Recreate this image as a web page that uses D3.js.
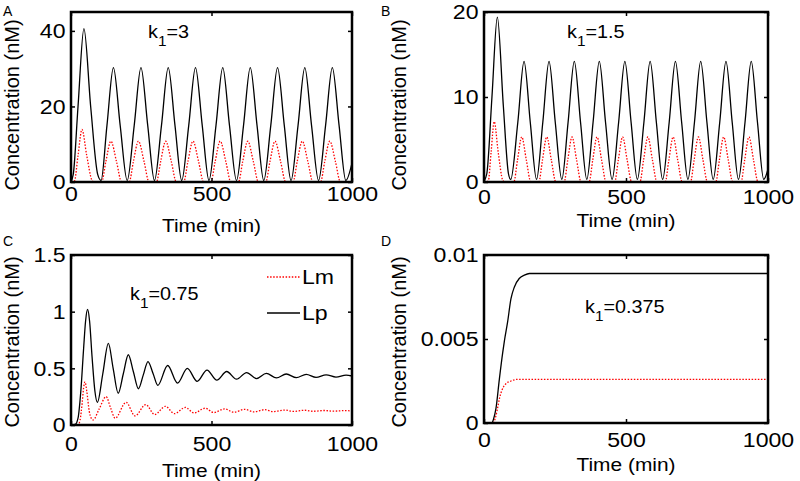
<!DOCTYPE html>
<html>
<head>
<meta charset="utf-8">
<script src="https://cdn.jsdelivr.net/npm/d3@7"></script>
<style>
  html, body { margin: 0; padding: 0; background: #fff; }
  svg { display: block; font-family: "Liberation Sans", Arial, sans-serif; }
</style>
</head>
<body>
<div id="chart"></div>
<script>
// Lp / Lm time courses for four k1 values: [time (min), concentration (nM)]
const timeTicks = [0, 500, 1000];
const panelLetters = ["A", "B", "C", "D"];
const k1Values = ["3", "1.5", "0.75", "0.375"];
const legendLabels = ["Lm", "Lp"];

const yTicksA = [0, 20, 40];
const yTicksB = [0, 10, 20];
const yTicksC = [0, 0.5, 1, 1.5];
const yTicksD = [0, 0.005, 0.01];

const aLp = [[0,0.2],[8,2],[25,20],[46,40.6],[70,20],[95,2],[107,0.4],
  [128,15],[151,30.3],[175,15],[200,0.4],
  [225,15],[249,30.3],[273,15],[297,0.4],
  [322,15],[346,30.3],[370,15],[394,0.4],
  [419,15],[443,30.3],[467,15],[491,0.4],
  [516,15],[540,30.3],[564,15],[589,0.4],
  [614,15],[638,30.3],[662,15],[686,0.4],
  [711,15],[735,30.3],[759,15],[783,0.4],
  [808,15],[832,30.3],[856,15],[881,0.4],
  [906,15],[930,30.3],[954,15],[978,0.4],[1000,5]];
const aLm = [[0,0],[12,0.2],[25,7],[39,13.9],[56,7],[75,0.4],[82,0],
  [109,0],[124,5.4],[142,10.8],[162,5.4],[180,0],
  [207,0],[222,5.4],[240,10.8],[260,5.4],[278,0],
  [304,0],[319,5.4],[337,10.8],[357,5.4],[375,0],
  [401,0],[416,5.4],[434,10.8],[454,5.4],[472,0],
  [498,0],[513,5.4],[531,10.8],[551,5.4],[569,0],
  [596,0],[611,5.4],[629,10.8],[649,5.4],[667,0],
  [693,0],[708,5.4],[726,10.8],[746,5.4],[764,0],
  [790,0],[805,5.4],[823,10.8],[843,5.4],[861,0],
  [888,0],[903,5.4],[921,10.8],[941,5.4],[959,0],[1000,0]];

const bLp = [[0,0.1],[10,1],[28,10],[47,19.4],[68,9],[86,1],[94,0.3],
  [119,7],[141,14.2],[163,7],[185,0.3],
  [207,7],[229,14.2],[251,7],[274,0.3],
  [296,7],[318,14.2],[340,7],[362,0.3],
  [384,7],[406,14.2],[428,7],[451,0.3],
  [474,7],[496,14.2],[518,7],[540,0.3],
  [563,7],[585,14.2],[607,7],[629,0.3],
  [652,7],[674,14.2],[696,7],[718,0.3],
  [741,7],[763,14.2],[785,7],[807,0.3],
  [830,7],[852,14.2],[874,7],[896,0.3],
  [919,7],[941,14.2],[963,7],[985,0.3],[1000,1.5]];
const bLm = [[0,0],[15,0.1],[25,3.5],[36,7.1],[50,3.5],[66,0.2],[72,0],
  [105,0],[118,2.6],[133,5.3],[149,2.6],[165,0],
  [193,0],[206,2.6],[221,5.3],[237,2.6],[253,0],
  [282,0],[295,2.6],[310,5.3],[326,2.6],[342,0],
  [370,0],[383,2.6],[398,5.3],[414,2.6],[430,0],
  [460,0],[473,2.6],[488,5.3],[504,2.6],[520,0],
  [549,0],[562,2.6],[577,5.3],[593,2.6],[609,0],
  [638,0],[651,2.6],[666,5.3],[682,2.6],[698,0],
  [727,0],[740,2.6],[755,5.3],[771,2.6],[787,0],
  [816,0],[829,2.6],[844,5.3],[860,2.6],[876,0],
  [905,0],[918,2.6],[933,5.3],[949,2.6],[965,0],[1000,0]];

const cLp = [[0,0],[15,0.005],[25,0.06],[35,0.3],[45,0.68],[52,0.92],[59,1.02],[66,0.92],[75,0.6],[85,0.3],[94,0.2],
  [113,0.45],[133,0.72],[150,0.5],[168,0.28],
  [186,0.45],[204,0.62],[222,0.47],[240,0.32],
  [257,0.44],[274,0.56],[292,0.455],[309,0.35],
  [344,0.525],[379,0.37],[414,0.5],[449,0.385],[484,0.485],[519,0.396],[554,0.472],[589,0.404],
  [625,0.463],[660,0.41],[695,0.456],[731,0.415],[766,0.45],[802,0.418],[837,0.447],[872,0.421],
  [908,0.443],[943,0.423],[979,0.44],[1000,0.432]];
const cLm = [[0,0],[25,0],[32,0.04],[40,0.2],[45,0.33],[50,0.38],[56,0.3],[65,0.12],[72,0.06],[79,0.045],
  [100,0.14],[125,0.25],[141,0.15],[157,0.06],
  [196,0.2],[228,0.08],[266,0.18],[298,0.092],[336,0.165],[368,0.1],[407,0.155],[438,0.106],
  [477,0.148],[508,0.11],[547,0.142],[579,0.113],[618,0.138],[650,0.116],[689,0.135],[720,0.118],
  [760,0.132],[791,0.12],[831,0.13],[862,0.121],[902,0.128],[933,0.122],[973,0.127],[1000,0.124]];

const dLp = [[0,0],[28,0],[33,0.0002],[42,0.00085],[54,0.0026],[66,0.0042],[72,0.0049],[83,0.006],
  [95,0.0074],[107,0.0081],[124,0.0086],[142,0.0088],[160,0.0089],[1000,0.0089]];
const dLm = [[0,0],[32,0],[40,0.0003],[48,0.0009],[55,0.0015],[62,0.0019],[75,0.0023],[95,0.0025],
  [120,0.0026],[1000,0.0026]];

// panel geometry (pixels) — the source figure is a little uneven, so each panel gets its own
const panels = [
  { lp: aLp, lm: aLm, yTicks: yTicksA, yMax: 45,   x0: 71,  x1: 352, y0: 12,  y1: 182, xPad: 4,  xLab: 232, yLabX: 19,  yLabY: 105, letter: [3, 16],    k: [148, 38] },
  { lp: bLp, lm: bLm, yTicks: yTicksB, yMax: 20,   x0: 484, x1: 768, y0: 12,  y1: 182, xPad: 7,  xLab: 227, yLabX: 406, yLabY: 105, letter: [381, 16],  k: [567, 38] },
  { lp: cLp, lm: cLm, yTicks: yTicksC, yMax: 1.5,  x0: 71,  x1: 352, y0: 255, y1: 425, xPad: 11, xLab: 477, yLabX: 19,  yLabY: 342, letter: [3, 246],   k: [130, 300] },
  { lp: dLp, lm: dLm, yTicks: yTicksD, yMax: 0.01, x0: 484, x1: 768, y0: 255, y1: 423, xPad: 9,  xLab: 471, yLabX: 406, yLabY: 342, letter: [381, 246], k: [585, 313] }
];

const W = 800, H = 481, STRETCH = 1.1;
const svg = d3.select("#chart").append("svg").attr("width", W).attr("height", H);
svg.append("rect").attr("width", W).attr("height", H).attr("fill", "#fff");

function styleAxis(g) {
  g.attr("font-size", 21).attr("font-family", "'Liberation Sans', Arial, sans-serif");
  g.select(".domain").remove();
  g.selectAll(".tick line").attr("stroke", "#000").attr("stroke-width", 1.5);
  g.selectAll(".tick text").attr("fill", "#000");
}

panels.forEach((p, i) => {
  const x = d3.scaleLinear().domain([0, 1000]).range([p.x0, p.x1]);
  const y = d3.scaleLinear().domain([0, p.yMax]).range([p.y1, p.y0]);
  const g = svg.append("g");

  const clipId = "clip" + i;
  svg.append("clipPath").attr("id", clipId).append("rect")
    .attr("x", p.x0).attr("y", p.y0 - 1).attr("width", p.x1 - p.x0).attr("height", p.y1 - p.y0 + 1);

  const line = d3.line().x(d => x(d[0])).y(d => y(d[1])).curve(d3.curveMonotoneX);
  const plot = g.append("g").attr("clip-path", `url(#${clipId})`);
  plot.append("path").datum(p.lp).attr("d", line)
    .attr("fill", "none").attr("stroke", "#000").attr("stroke-width", 1.3);
  plot.append("path").datum(p.lm).attr("d", line)
    .attr("fill", "none").attr("stroke", "#f00").attr("stroke-width", 1.3).attr("stroke-dasharray", "1.5 1.6");

  // axes, ticks pointing inward on all four sides
  const fmt = d => String(d);
  g.append("g").attr("transform", `translate(0,${p.y1})`)
    .call(d3.axisBottom(x).tickValues(timeTicks).tickFormat(fmt).tickSize(-4).tickPadding(p.xPad))
    .call(styleAxis)
    .selectAll(".tick text").attr("transform", `scale(${STRETCH},1)`);
  g.append("g").attr("transform", `translate(0,${p.y0})`)
    .call(d3.axisTop(x).tickValues(timeTicks).tickFormat("").tickSize(-4)).call(styleAxis);
  g.append("g").attr("transform", `translate(${p.x0},0)`)
    .call(d3.axisLeft(y).tickValues(p.yTicks).tickFormat(fmt).tickSize(-4).tickPadding(5))
    .call(styleAxis)
    .selectAll(".tick text").attr("transform", `scale(${STRETCH},1)`);
  g.append("g").attr("transform", `translate(${p.x1},0)`)
    .call(d3.axisRight(y).tickValues(p.yTicks).tickFormat("").tickSize(-4)).call(styleAxis);

  g.append("rect").attr("x", p.x0).attr("y", p.y0)
    .attr("width", p.x1 - p.x0).attr("height", p.y1 - p.y0)
    .attr("fill", "none").attr("stroke", "#000").attr("stroke-width", 2.5);

  // labels
  g.append("text").attr("transform", `translate(${(p.x0 + p.x1) / 2},${p.xLab}) scale(${STRETCH},1)`)
    .attr("text-anchor", "middle").attr("font-size", 19).text("Time (min)");
  g.append("text").attr("transform", `translate(${p.yLabX},${p.yLabY}) rotate(-90)`)
    .attr("text-anchor", "middle").attr("font-size", 20).text("Concentration (nM)");
  g.append("text").attr("x", p.letter[0]).attr("y", p.letter[1])
    .attr("font-size", 14).text(panelLetters[i]);

  const kt = g.append("text").attr("transform", `translate(${p.k[0]},${p.k[1]}) scale(${STRETCH},1)`)
    .attr("font-size", 18);
  kt.append("tspan").text("k");
  kt.append("tspan").attr("dy", 8).attr("font-size", 14).text("1");
  kt.append("tspan").attr("dy", -8).text("=" + k1Values[i]);
});

// legend in panel C
const leg = svg.append("g");
const legStyles = [
  { stroke: "#f00", dash: "1.5 1.6", y: 277, ty: 284 },
  { stroke: "#000", dash: null, y: 313, ty: 320 }
];
legendLabels.forEach((lab, j) => {
  const s = legStyles[j];
  leg.append("line").attr("x1", 267).attr("x2", 300).attr("y1", s.y).attr("y2", s.y)
    .attr("stroke", s.stroke).attr("stroke-width", 1.3).attr("stroke-dasharray", s.dash);
  leg.append("text").attr("transform", `translate(302,${s.ty}) scale(${STRETCH},1)`)
    .attr("font-size", 21).text(lab);
});
</script>
</body>
</html>
